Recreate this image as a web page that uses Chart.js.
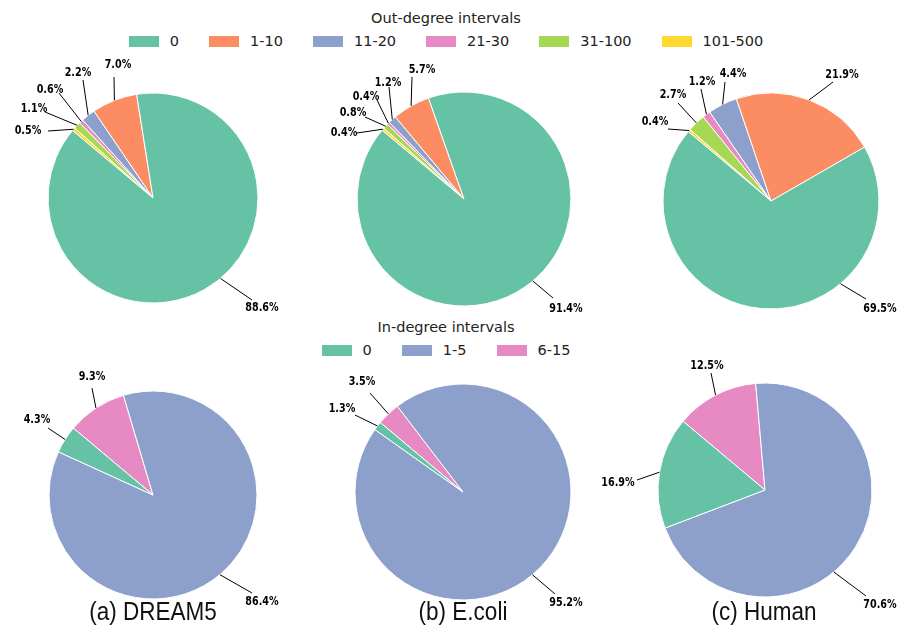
<!DOCTYPE html>
<html>
<head>
<meta charset="utf-8">
<script src="https://cdn.jsdelivr.net/npm/chart.js@4.4.1/dist/chart.umd.min.js"></script>
<style>
  body { margin: 0; background: #fff; width: 919px; height: 632px; position: relative; overflow: hidden;
         font-family: "DejaVu Sans", sans-serif; color: #222; }
  canvas.pie { position: absolute; }
  .legend { position: absolute; left: 0; width: 892px; text-align: center; }
  .legend .title { font-size: 14.5px; line-height: 18px; }
  .legend .items { display: flex; justify-content: center; margin-top: 5px; }
  .legend .item { display: flex; align-items: center; margin: 0 15px; font-size: 14.5px; line-height: 18px; }
  .legend .sw { width: 30px; height: 11px; margin-right: 11px; }
  .caption { position: absolute; width: 240px; text-align: center; font-family: "Liberation Sans", Arial, sans-serif;
             font-size: 25px; line-height: 29px; color: #111; transform: scaleX(0.9); }
</style>
</head>
<body>
<div class="legend" id="outLegend" style="top:9px"></div>
<div class="legend" id="inLegend" style="top:318px"></div>

<script>
// interval buckets and their Set2 colours
const outIntervals = ['0', '1-10', '11-20', '21-30', '31-100', '101-500'];
const outColors    = ['#66c2a5', '#fc8d62', '#8da0cb', '#e78ac3', '#a6d854', '#ffd92f'];
const inIntervals  = ['0', '1-5', '6-15'];
const inColors     = ['#66c2a5', '#8da0cb', '#e78ac3'];

// percentage of genes per interval
const outDream5 = [88.6, 7.0, 2.2, 0.6, 1.1, 0.5];
const outEcoli  = [91.4, 5.7, 1.2, 0.4, 0.8, 0.4];
const outHuman  = [69.5, 21.9, 4.4, 1.2, 2.7, 0.4];
const inDream5  = [4.3, 86.4, 9.3];
const inEcoli   = [1.3, 95.2, 3.5];
const inHuman   = [16.9, 70.6, 12.5];

const datasetNames = ['(a) DREAM5', '(b) E.coli', '(c) Human'];

// label text centre and leader end, relative to each pie centre: [tx, ty, ex, ey]
const spotsOutDream5 = [[109,110,99,102], [-35,-133,-39,-121], [-75,-125,-70,-118], [-103,-108,-94,-105], [-119,-89,-108,-86], [-125,-67,-105,-67]];
const spotsOutEcoli  = [[102,110,89,99], [-42,-129,-52,-122], [-76,-116,-75,-112], [-98,-102,-87,-99], [-111,-86,-99,-82], [-120,-66,-107,-66]];
const spotsOutHuman  = [[109,108,95,98], [71,-126,62,-119], [-38,-127,-46,-119], [-69,-119,-70,-112], [-98,-106,-93,-98], [-116,-79,-103,-72]];
const spotsInDream5  = [[-116,-75,-105,-67], [109,107,99,98], [-61,-118,-61,-107]];
const spotsInEcoli   = [[-121,-83,-108,-77], [103,111,92,102], [-101,-110,-93,-99]];
const spotsInHuman   = [[-147,-7,-128,-10], [115,115,101,106], [-58,-124,-54,-117]];

const HALF = 180;                        // half of each pie canvas
const BIG_ANCHOR = 50 * Math.PI / 180;   // leader of the dominant slice leaves at lower right

function buildLegend(el, title, names, colors) {
  el.innerHTML = `<div class="title">${title}</div>
    <div class="items">${names.map((n, i) =>
      `<div class="item"><span class="sw" style="background:${colors[i]}"></span>${n}</div>`).join('')}</div>`;
}
buildLegend(document.getElementById('outLegend'), 'Out-degree intervals', outIntervals, outColors);
buildLegend(document.getElementById('inLegend'), 'In-degree intervals', inIntervals, inColors);

// percent labels with leader lines, drawn from the arcs Chart.js laid out
const leaderLabels = {
  id: 'leaderLabels',
  afterDatasetsDraw(chart, args, opts) {
    const ctx = chart.ctx;
    const arcs = chart.getDatasetMeta(0).data;
    const vals = chart.data.datasets[0].data;
    const big = vals.indexOf(Math.max(...vals));
    ctx.save();
    ctx.strokeStyle = '#000';
    ctx.lineWidth = 1;
    ctx.fillStyle = '#000';
    ctx.font = 'bold 12px "DejaVu Sans"';
    ctx.textAlign = 'center';
    ctx.textBaseline = 'middle';
    arcs.forEach((arc, i) => {
      const s = opts.spots[i];
      const mid = i === big ? BIG_ANCHOR : (arc.startAngle + arc.endAngle) / 2;
      const sx = arc.x + Math.cos(mid) * arc.outerRadius;
      const sy = arc.y + Math.sin(mid) * arc.outerRadius;
      ctx.beginPath();
      ctx.moveTo(sx, sy);
      ctx.lineTo(arc.x + s[2], arc.y + s[3]);
      ctx.stroke();
      ctx.save();
      ctx.translate(arc.x + s[0], arc.y + s[1]);
      ctx.scale(0.8, 1);
      ctx.fillText(vals[i].toFixed(1) + '%', 0, 0);
      ctx.restore();
    });
    ctx.restore();
  }
};

// matplotlib draws counter-clockwise from 140 deg; Chart.js goes clockwise,
// so slices are fed in reverse starting from the same edge
function drawPie(values, colors, spots, cx, cy, r) {
  const canvas = document.createElement('canvas');
  canvas.className = 'pie';
  canvas.width = HALF * 2;
  canvas.height = HALF * 2;
  canvas.style.left = (cx - HALF) + 'px';
  canvas.style.top = (cy - HALF) + 'px';
  document.body.appendChild(canvas);
  const rev = a => a.slice().reverse();
  new Chart(canvas, {
    type: 'pie',
    data: {
      labels: rev(values.map((_, i) => i)),
      datasets: [{
        data: rev(values),
        backgroundColor: rev(colors),
        borderColor: '#fff',
        borderWidth: 1,
      }],
    },
    options: {
      responsive: false,
      animation: false,
      events: [],
      radius: r,
      rotation: -50,
      layout: { padding: 0 },
      plugins: {
        legend: { display: false },
        tooltip: { enabled: false },
        leaderLabels: { spots: rev(spots) },
      },
    },
    plugins: [leaderLabels],
  });
}

drawPie(outDream5, outColors, spotsOutDream5, 153, 198, 105);
drawPie(outEcoli,  outColors, spotsOutEcoli,  464, 199, 107);
drawPie(outHuman,  outColors, spotsOutHuman,  771, 201, 108);
drawPie(inDream5,  inColors,  spotsInDream5,  153, 495, 104);
drawPie(inEcoli,   inColors,  spotsInEcoli,   463, 492, 108);
drawPie(inHuman,   inColors,  spotsInHuman,   765, 490, 107);

// subplot captions
[153, 463, 764].forEach((x, i) => {
  const d = document.createElement('div');
  d.className = 'caption';
  d.style.left = (x - 120) + 'px';
  d.style.top = '597px';
  d.textContent = datasetNames[i];
  document.body.appendChild(d);
});
</script>
</body>
</html>
